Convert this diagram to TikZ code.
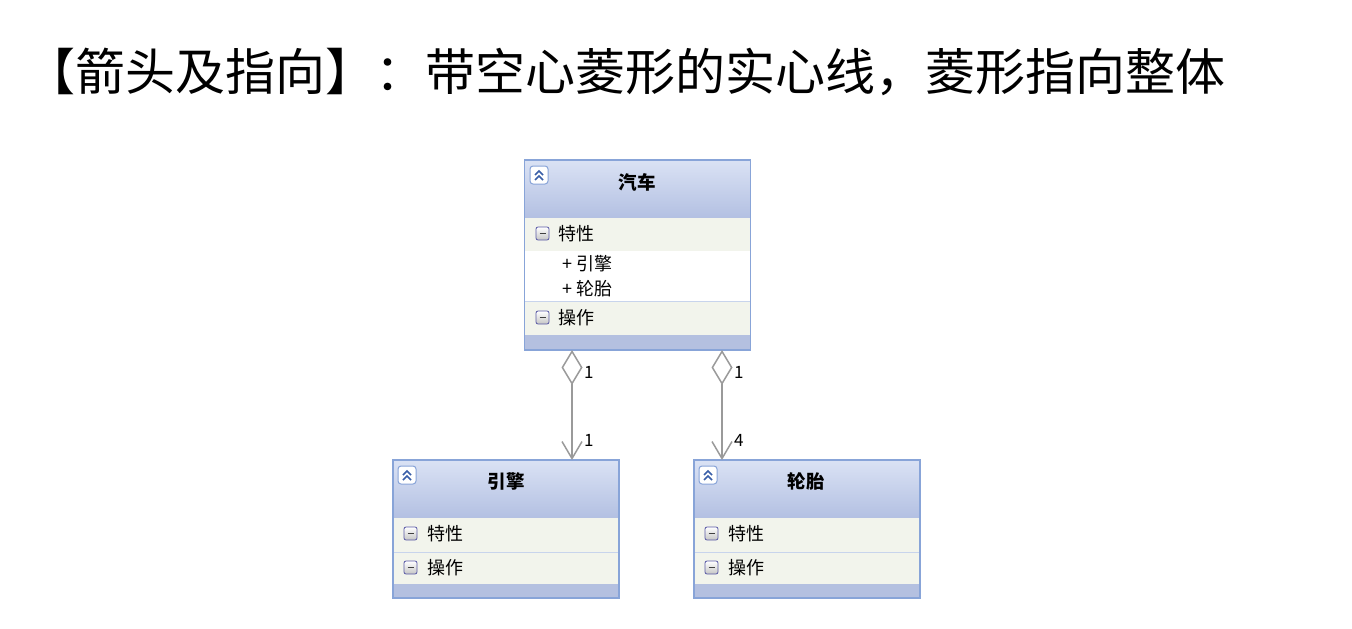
\documentclass[tikz,border=0pt]{standalone}
\usepackage{fontspec}
\setmainfont{Noto Sans CJK SC}
\usetikzlibrary{arrows.meta}
\definecolor{bord}{HTML}{88A4D8}
\definecolor{htop}{HTML}{DAE2F4}
\definecolor{hbot}{HTML}{B3C0E2}
\definecolor{rowc}{HTML}{F2F4EC}
\definecolor{divc}{HTML}{C8D4EC}
\definecolor{barc}{HTML}{B4C0E0}
\definecolor{conn}{HTML}{9A9A9A}
\definecolor{chev}{HTML}{3A5FA8}
\newcommand\CollapseIcon[2]{%
  \draw[bord, fill=white, rounded corners=3pt, line width=1pt] (#1,#2) rectangle ++(18,18);
  \draw[chev, line width=1.6pt] (#1+5,#2+9) -- (#1+9,#2+5) -- (#1+13,#2+9);
  \draw[chev, line width=1.6pt] (#1+5,#2+14) -- (#1+9,#2+10) -- (#1+13,#2+14);
}
\newcommand\MinusIcon[2]{%
  \shade[top color=white, bottom color=gray!45, draw=gray!70!blue, rounded corners=2pt, line width=0.8pt] (#1,#2) rectangle ++(13,13);
  \draw[black!75, line width=1.8pt] (#1+3.5,#2+6.5) -- (#1+9.5,#2+6.5);
}
\tikzset{
  classbox/.style={draw=bord, line width=1.8pt, rectangle, inner sep=0pt, outer sep=0pt},
  ctext/.style={anchor=west, font=\fontsize{18}{18}\selectfont, inner sep=0pt},
  htext/.style={font=\fontsize{18.5}{18.5}\selectfont\bfseries, inner sep=0pt},
  mult/.style={anchor=west, font=\fontsize{17}{17}\selectfont, inner sep=0pt},
  assoc/.style={conn, line width=1.5pt, {Diamond[open,length=35pt,width=21pt]}-{Straight Barb[length=17pt,width=20pt]}}
}
\begin{document}
\begin{tikzpicture}[x=1pt,y=-1pt]
\useasboundingbox (0,0) rectangle (1352,629);
\fill[white] (0,0) rectangle (1352,629);
% title
\node[anchor=west, inner sep=0pt, font=\fontsize{50}{50}\selectfont] (title) at (25,72) {【箭头及指向】：带空心菱形的实心线，菱形指向整体};

% ---- car box internals
\shade[top color=htop, bottom color=hbot] (524.5,160) rectangle (750.5,218);
\fill[rowc] (524.5,218) rectangle (750.5,251);
\fill[white] (524.5,251) rectangle (750.5,301);
\draw[divc, line width=1.2pt] (524.5,301.5) -- (750.5,301.5);
\fill[rowc] (524.5,302) rectangle (750.5,335);
\fill[barc] (524.5,335) rectangle (750.5,350);
% ---- engine box internals
\shade[top color=htop, bottom color=hbot] (393,460) rectangle (619,518);
\fill[rowc] (393,518) rectangle (619,552);
\draw[divc, line width=1.2pt] (393,552.5) -- (619,552.5);
\fill[rowc] (393,553) rectangle (619,584);
\fill[barc] (393,584) rectangle (619,598);
% ---- tire box internals
\shade[top color=htop, bottom color=hbot] (694,460) rectangle (920,518);
\fill[rowc] (694,518) rectangle (920,552);
\draw[divc, line width=1.2pt] (694,552.5) -- (920,552.5);
\fill[rowc] (694,553) rectangle (920,584);
\fill[barc] (694,584) rectangle (920,598);

% boxes
\node[classbox, minimum width=226, minimum height=190] (car) at (637.5,255) {};
\node[classbox, minimum width=226, minimum height=138] (engine) at (506,529) {};
\node[classbox, minimum width=226, minimum height=138] (tire) at (807,529) {};

% car texts
\CollapseIcon{530}{166}
\node[htext] (carname) at (637,182) {汽车};
\MinusIcon{536}{227}
\node[ctext] (carattr) at (558,234) {特性};
\node[ctext] (carf1) at (562,264) {+ 引擎};
\node[ctext] (carf2) at (562,289) {+ 轮胎};
\MinusIcon{536}{311}
\node[ctext] (carop) at (558,318) {操作};

% engine texts
\CollapseIcon{398}{466}
\node[htext] (engname) at (506,481) {引擎};
\MinusIcon{404}{527}
\node[ctext] (engattr) at (427,534) {特性};
\MinusIcon{404}{561}
\node[ctext] (engop) at (427,568) {操作};

% tire texts
\CollapseIcon{699}{466}
\node[htext] (tirename) at (806,481) {轮胎};
\MinusIcon{705}{527}
\node[ctext] (tireattr) at (728,534) {特性};
\MinusIcon{705}{561}
\node[ctext] (tireop) at (728,568) {操作};

% connectors
\coordinate (ax1) at (572,0);
\coordinate (ax2) at (722,0);
\draw[assoc] (car.south -| ax1) -- (engine.north -| ax1);
\draw[assoc] (car.south -| ax2) -- (tire.north -| ax2);
\node[mult] (m1) at (584,372) {1};
\node[mult] (m2) at (584,440) {1};
\node[mult] (m3) at (734,372) {1};
\node[mult] (m4) at (734,440) {4};
\end{tikzpicture}
\end{document}
